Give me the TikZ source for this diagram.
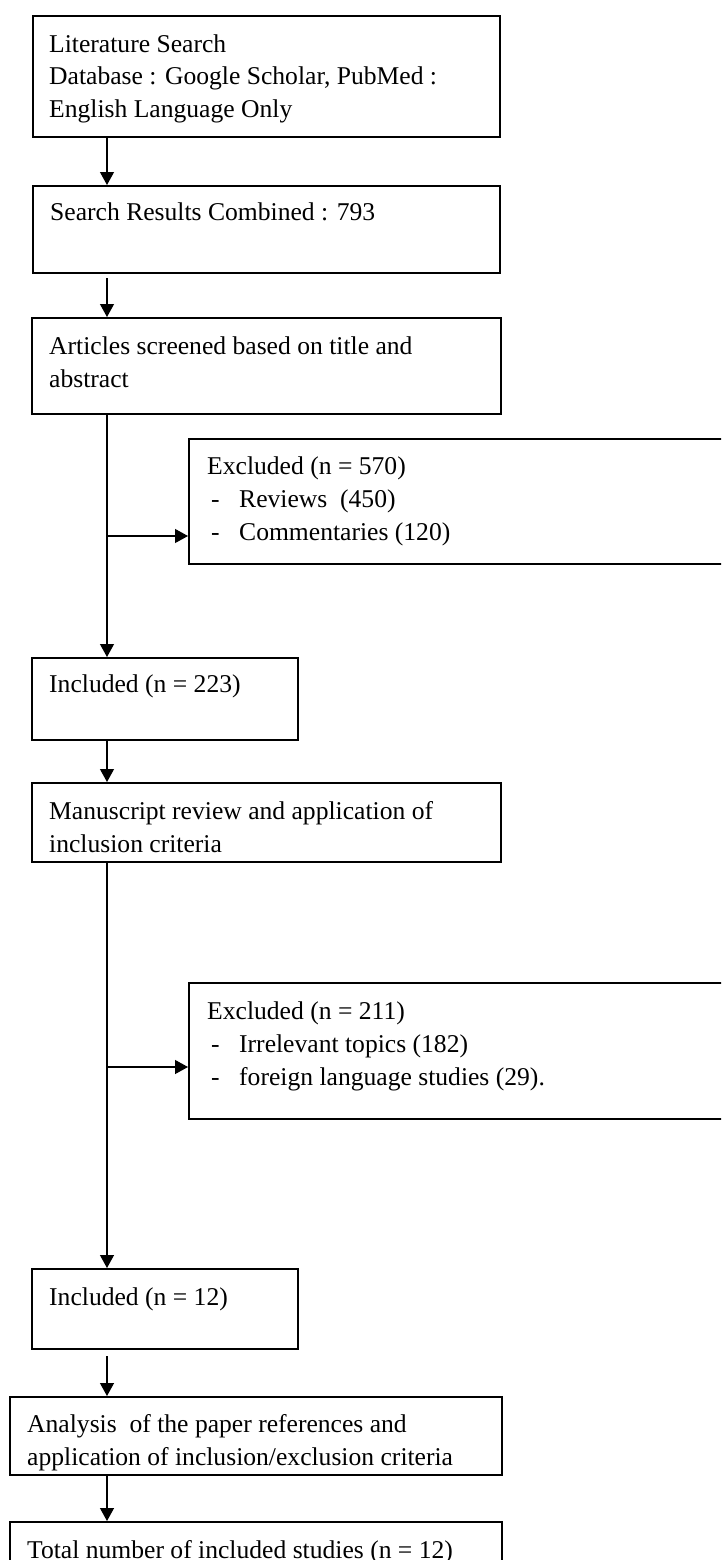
\documentclass[tikz,border=0pt]{standalone}
\usepackage{fontspec}
\setmainfont{Liberation Serif}
\usetikzlibrary{arrows.meta}
\newcommand\lstitem{\makebox[32pt][l]{\hspace{4pt}-}}
\begin{document}
\begin{tikzpicture}[x=1pt,y=-1pt,
  box/.style={draw, line width=2.2pt, anchor=north west, inner sep=0pt},
  txt/.style={anchor=base west, align=left, inner sep=0pt, font=\fontsize{25.6}{33}\selectfont},
  arr/.style={line width=1.2pt, -{Triangle[length=13pt,width=14pt]}}]
\useasboundingbox (0,0) rectangle (721,1560);
\fill[white] (0,0) rectangle (721,1560);
\clip (0,0) rectangle (721,1560);
\coordinate (xc) at (107,0);
% boxes
\node[box, minimum width=467pt, minimum height=121pt] (b1) at (32,15) {};
\node[box, minimum width=467pt, minimum height=87pt] (b2) at (32,185) {};
\node[box, minimum width=469pt, minimum height=96pt] (b3) at (31,317) {};
\node[box, minimum width=560pt, minimum height=125pt] (e1) at (188,438) {};
\node[box, minimum width=266pt, minimum height=82pt] (b4) at (31,657) {};
\node[box, minimum width=469pt, minimum height=79pt] (b5) at (31,782) {};
\node[box, minimum width=560pt, minimum height=136pt] (e2) at (188,982) {};
\node[box, minimum width=266pt, minimum height=80pt] (b6) at (31,1268) {};
\node[box, minimum width=492pt, minimum height=78pt] (b7) at (9,1396) {};
\node[box, minimum width=492pt, minimum height=70pt] (b8) at (9,1521) {};
% texts (anchor = baseline of the last line)
\node[txt] (t1) at (49,118) {Literature Search\\Database : Google Scholar, PubMed :\\English Language Only};
\node[txt] (t2) at (50,220) {Search Results Combined : 793};
\node[txt] (t3) at (49,387) {Articles screened based on title and\\abstract};
\node[txt] (t4) at (207,540) {Excluded (n = 570)\\\lstitem Reviews\ \ (450)\\\lstitem Commentaries (120)};
\node[txt] (t5) at (49,692) {Included (n = 223)};
\node[txt] (t6) at (49,852) {Manuscript review and application of\\inclusion criteria};
\node[txt] (t7) at (207,1085) {Excluded (n = 211)\\\lstitem Irrelevant topics (182)\\\lstitem foreign language studies (29).};
\node[txt] (t8) at (49,1305) {Included (n = 12)};
\node[txt] (t9) at (27,1465) {Analysis\ \ of the paper references and\\application of inclusion/exclusion criteria};
\node[txt] (t10) at (27,1558) {Total number of included studies (n = 12)};
% connectors
\draw[arr] (b1.south -| xc) -- (b2.north -| xc);
\draw[arr, shorten <=4pt] (b2.south -| xc) -- (b3.north -| xc);
\draw[arr] (b3.south -| xc) -- (b4.north -| xc);
\coordinate (j1) at (107,536);
\draw[arr] (j1) -- (j1 -| e1.west);
\draw[arr] (b4.south -| xc) -- (b5.north -| xc);
\draw[arr] (b5.south -| xc) -- (b6.north -| xc);
\coordinate (j2) at (107,1067);
\draw[arr] (j2) -- (j2 -| e2.west);
\draw[arr, shorten <=6pt] (b6.south -| xc) -- (b7.north -| xc);
\draw[arr] (b7.south -| xc) -- (b8.north -| xc);
\end{tikzpicture}
\end{document}
